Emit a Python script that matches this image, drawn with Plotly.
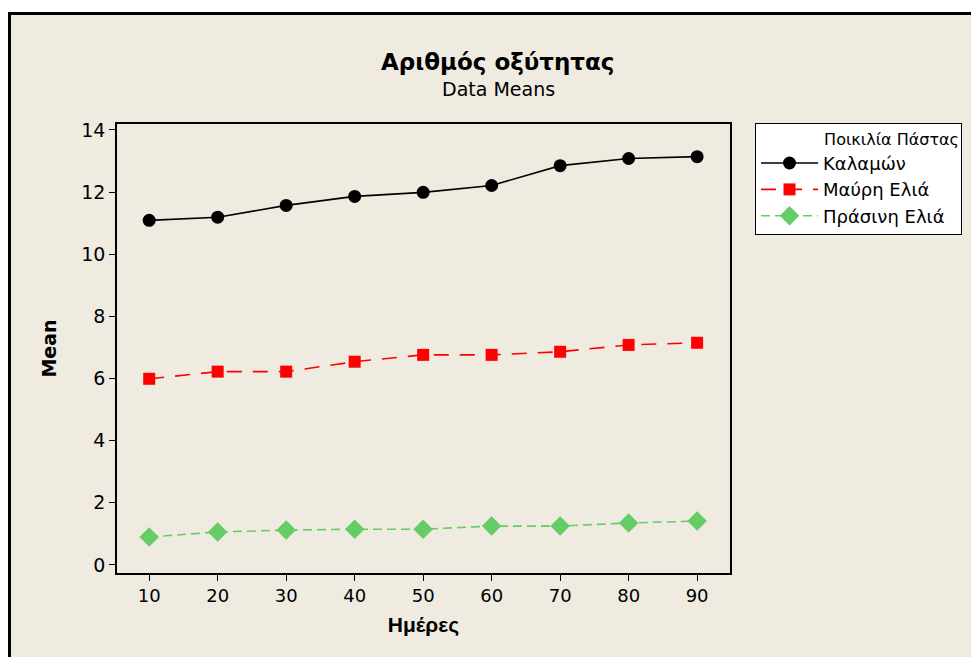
import plotly.graph_objects as go

days = [10, 20, 30, 40, 50, 60, 70, 80, 90]
kalamon = [11.09, 11.19, 11.57, 11.86, 11.99, 12.21, 12.85, 13.08, 13.14]
mavri = [5.99, 6.22, 6.22, 6.54, 6.76, 6.76, 6.86, 7.08, 7.15]
prasini = [0.90, 1.06, 1.12, 1.15, 1.15, 1.25, 1.25, 1.35, 1.41]
series_names = ["Καλαμών", "Μαύρη Ελιά", "Πράσινη Ελιά"]
legend_title = "Ποικιλία Πάστας"
x_ticks = [10, 20, 30, 40, 50, 60, 70, 80, 90]
y_ticks = [0, 2, 4, 6, 8, 10, 12, 14]

OFF = 8  # browser body margin
W, H = 979 - OFF, 657 - OFF
L, T = 117 - OFF, 124 - OFF
R = W - (730 - OFF)
B = H - (573 - OFF)
pw, ph = W - L - R, H - T - B

def px_x(p):
    return (p - OFF - L) / pw

def px_y(p):
    return (H - B - (p - OFF)) / ph

FONT = "DejaVu Sans"
BG = "#EFEBE0"

fig = go.Figure()
fig.add_trace(go.Scatter(x=days, y=kalamon, name=series_names[0], mode="lines+markers",
                         line=dict(color="black", width=1.6),
                         marker=dict(symbol="circle", size=13, color="black")))
fig.add_trace(go.Scatter(x=days, y=mavri, name=series_names[1], mode="lines+markers",
                         line=dict(color="#FF0000", width=1.6, dash="15px,11px"),
                         marker=dict(symbol="square", size=12, color="#FF0000")))
fig.add_trace(go.Scatter(x=days, y=prasini, name=series_names[2], mode="lines+markers",
                         line=dict(color="#66CC66", width=1.6, dash="9px,5px"),
                         marker=dict(symbol="diamond", size=15, color="#66CC66")))

# outer beige frame with thick black border
fig.add_shape(type="rect", xref="paper", yref="paper",
              x0=px_x(9.5), x1=px_x(990), y0=px_y(670), y1=px_y(13.5),
              fillcolor=BG, line=dict(color="black", width=3), layer="below")

fig.add_annotation(text="<b>Αριθμός οξύτητας</b>", xref="paper", yref="paper",
                   x=px_x(497), y=px_y(62), xanchor="center", yanchor="middle",
                   showarrow=False, font=dict(size=23, family=FONT))
fig.add_annotation(text="Data Means", xref="paper", yref="paper",
                   x=px_x(498), y=px_y(89), xanchor="center", yanchor="middle",
                   showarrow=False, font=dict(size=19, family=FONT))

fig.update_layout(
    width=W, height=H,
    margin=dict(l=L, r=R, t=T, b=B, pad=0, autoexpand=False),
    paper_bgcolor="white", plot_bgcolor="white",
    font=dict(family=FONT, color="black", size=16),
    showlegend=True,
    legend=dict(xref="container", yref="container",
                x=(755 - OFF) / W, y=1 - (123 - OFF) / H, xanchor="left", yanchor="top",
                bgcolor="white", bordercolor="black", borderwidth=1,
                font=dict(size=18, family=FONT),
                title=dict(text="\u00a0" * 13 + legend_title, font=dict(size=16, family=FONT)),
                tracegroupgap=0, itemwidth=57),
)

fig.update_xaxes(range=[5.3, 94.8], tickvals=x_ticks, ticks="outside", ticklen=6,
                 tickcolor="black", showline=True, linecolor="black", linewidth=1.5,
                 mirror=True, showgrid=False, zeroline=False,
                 tickfont=dict(size=18, family=FONT),
                 title=dict(text="<b>Ημέρες</b>", font=dict(size=21, family="Liberation Sans"), standoff=12))
fig.update_yaxes(range=[-0.26, 14.19], tickvals=y_ticks, ticks="outside", ticklen=6,
                 tickcolor="black", showline=True, linecolor="black", linewidth=1.5,
                 mirror=True, showgrid=False, zeroline=False,
                 tickfont=dict(size=19, family=FONT),
                 title=dict(text="<b>Mean</b>", font=dict(size=19, family=FONT), standoff=20))

fig.write_html("out.html")
